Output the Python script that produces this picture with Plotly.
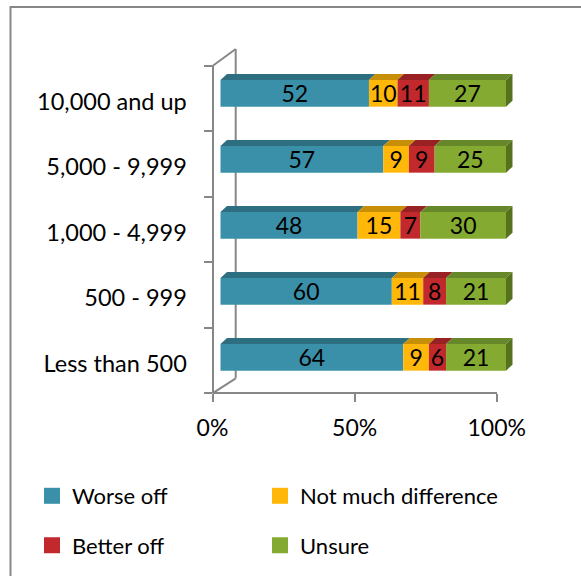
import plotly.graph_objects as go

# ---- data -------------------------------------------------------------
categories = ["Less than 500", "500 - 999", "1,000 - 4,999", "5,000 - 9,999", "10,000 and up"]
series_names = ["Worse off", "Not much difference", "Better off", "Unsure"]
worse_off = [64, 60, 48, 57, 52]
not_much_difference = [9, 11, 15, 9, 10]
better_off = [6, 8, 7, 9, 11]
unsure = [21, 21, 30, 25, 27]
tick_values = [0, 50, 100]
tick_labels = ["0%", "50%", "100%"]

series_values = [worse_off, not_much_difference, better_off, unsure]
front_colors = ["#3A90A9", "#FFB70A", "#C2292D", "#84AA31"]
top_colors = ["#2D6E81", "#C78F07", "#972123", "#67882A"]
side_color = "#56721F"
axis_color = "#878787"
FONT = "Lato"

# ---- geometry (pixels) ------------------------------------------------
W, H = 581, 576
BAR_X0, PX_PER_PCT = 220.5, 2.855      # bar scale: 0 % -> x px
BAR_Y0, ROW_STEP = 357.3, 66.0         # first category centre, spacing
BAR_THICK = 26.7 / ROW_STEP            # front-face height in category units
DEPTH_X = 6.5 / PX_PER_PCT             # 3-D depth offsets in data units
DEPTH_Y = 6.0 / ROW_STEP
AX_X0, AX_X1, AX_TOP, AX_BOT = 212.5, 496.7, 66.0, 393.3   # front axes
WALL_X, WALL_TOP, WALL_BOT = 235.7, 49.0, 378.3             # back wall
# legend slots: (symbol-centre x, row centre y) for each series
LEGEND_SLOTS = [(52, 496), (280, 496), (52, 545.5), (280, 545.5)]


def px(x):
    return x / W


def py(y):
    return 1 - y / H


def legend_key(s):
    return "legend" if s == 0 else f"legend{s + 1}"


positions = list(range(len(categories)))
fig = go.Figure()

# front faces of stacked bars
bases = [0] * len(categories)
face_x, face_y = [[] for _ in series_values], [[] for _ in series_values]
side_x, side_y = [], []
for s, (name, vals) in enumerate(zip(series_names, series_values)):
    fig.add_trace(go.Bar(
        y=positions, x=vals, base=list(bases), orientation="h",
        width=BAR_THICK, name=name, showlegend=False,
        marker=dict(color=front_colors[s], line=dict(width=0)),
        text=vals, texttemplate="%{text}", textposition="inside",
        insidetextanchor="middle", textangle=0, constraintext="none",
        textfont=dict(family=FONT, size=23, color="black"),
        hoverinfo="skip",
    ))
    # legend entry with a larger square swatch
    fig.add_trace(go.Scatter(
        x=[None], y=[None], mode="markers", name=name,
        marker=dict(symbol="square", size=18, color=front_colors[s]),
        legend=legend_key(s), hoverinfo="skip",
    ))
    for i, v in enumerate(vals):
        x0, x1 = bases[i], bases[i] + v
        yt, yb = positions[i] + BAR_THICK / 2, positions[i] - BAR_THICK / 2
        face_x[s] += [x0, x1, x1 + DEPTH_X, x0 + DEPTH_X, x0, None]
        face_y[s] += [yt, yt, yt + DEPTH_Y, yt + DEPTH_Y, yt, None]
        if s == len(series_values) - 1:
            side_x += [x1, x1 + DEPTH_X, x1 + DEPTH_X, x1, x1, None]
            side_y += [yt, yt + DEPTH_Y, yb + DEPTH_Y, yb, yt, None]
        bases[i] = x1

# top faces
for s in range(len(series_values)):
    fig.add_trace(go.Scatter(
        x=face_x[s], y=face_y[s], mode="lines", fill="toself",
        fillcolor=top_colors[s], line=dict(width=0, color=top_colors[s]),
        showlegend=False, hoverinfo="skip",
    ))
# right-hand end faces
fig.add_trace(go.Scatter(
    x=side_x, y=side_y, mode="lines", fill="toself", fillcolor=side_color,
    line=dict(width=0, color=side_color), showlegend=False, hoverinfo="skip",
))

# carrier for the category axis labels
fig.add_trace(go.Scatter(
    x=[0] * len(categories), y=categories, xaxis="x2", yaxis="y2",
    mode="markers", marker=dict(opacity=0), showlegend=False, hoverinfo="skip",
))

# back wall of the 3-D frame
wall = [
    (AX_X0, AX_TOP, WALL_X, WALL_TOP),
    (WALL_X, WALL_TOP, WALL_X, WALL_BOT),
    (AX_X0, AX_BOT, WALL_X, WALL_BOT),
]
shapes = [
    dict(type="line", xref="paper", yref="paper", layer="below",
         x0=px(a), y0=py(b), x1=px(c), y1=py(d),
         line=dict(color=axis_color, width=2))
    for a, b, c, d in wall
]
# chart frame
shapes.append(dict(type="rect", xref="paper", yref="paper", layer="below",
                   x0=px(10.5), y0=-0.05, x1=1.05, y1=py(7),
                   line=dict(color=axis_color, width=2)))

x_range = [-BAR_X0 / PX_PER_PCT, (W - BAR_X0) / PX_PER_PCT]
y_range = [(BAR_Y0 - H) / ROW_STEP, BAR_Y0 / ROW_STEP]

legends = {}
for s, (sx, sy) in enumerate(LEGEND_SLOTS):
    legends[legend_key(s)] = dict(
        x=px(sx - 20), y=py(sy), xanchor="left", yanchor="middle",
        orientation="h", borderwidth=0,
        font=dict(family=FONT, size=22, color="black"),
        bgcolor="rgba(0,0,0,0)", itemclick=False, itemdoubleclick=False,
    )

fig.update_layout(
    width=W, height=H, autosize=False,
    margin=dict(l=0, r=0, t=0, b=0, pad=0, autoexpand=False),
    paper_bgcolor="white", plot_bgcolor="rgba(0,0,0,0)",
    font=dict(family=FONT, size=23, color="black"),
    barmode="overlay", showlegend=True,
    xaxis=dict(domain=[0, 1], range=x_range, visible=False, fixedrange=True),
    yaxis=dict(domain=[0, 1], range=y_range, visible=False, fixedrange=True),
    xaxis2=dict(
        domain=[px(AX_X0), px(AX_X1)], range=[0, 100], anchor="free",
        position=py(AX_BOT), tickvals=tick_values, ticktext=tick_labels,
        ticks="outside", ticklen=8, tickwidth=2, tickcolor=axis_color,
        showline=True, linecolor=axis_color, linewidth=2,
        showgrid=False, zeroline=False, ticklabelstandoff=6,
        tickfont=dict(family=FONT, size=23, color="black"), fixedrange=True,
    ),
    yaxis2=dict(
        domain=[py(AX_BOT), py(AX_TOP)], type="category",
        categoryorder="array", categoryarray=categories,
        range=[-0.5, len(categories) - 0.5], anchor="free", position=px(AX_X0),
        tickson="boundaries", ticks="outside", ticklen=8, tickwidth=2,
        tickcolor=axis_color, showline=True, linecolor=axis_color, linewidth=2,
        showgrid=False, zeroline=False, ticklabelstandoff=20,
        ticklabelshift=3,
        tickfont=dict(family=FONT, size=23.5, color="black"), fixedrange=True,
    ),
    shapes=shapes,
    **legends,
)

fig.write_html("out.html")
